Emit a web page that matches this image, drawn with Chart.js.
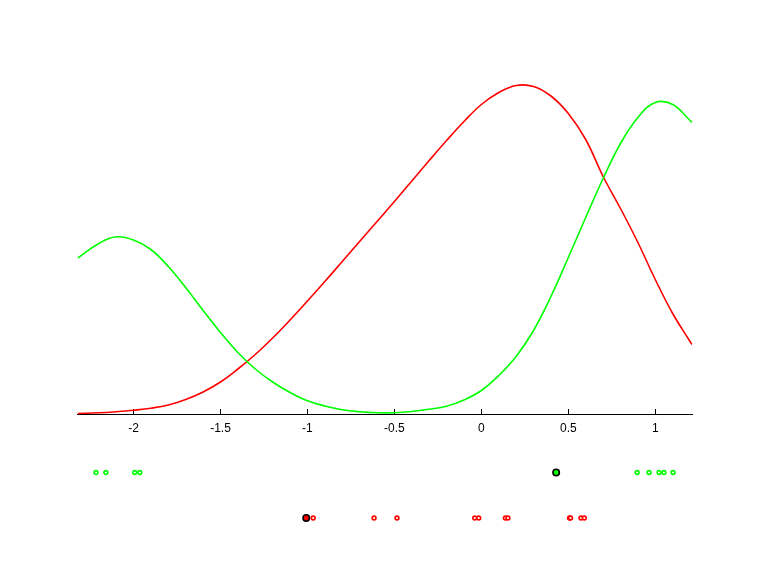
<!DOCTYPE html>
<html>
<head>
<meta charset="utf-8">
<script src="https://cdn.jsdelivr.net/npm/chart.js@4"></script>
<style>
  html, body { margin: 0; padding: 0; background: #fff; }
</style>
</head>
<body>
<canvas id="densityChart" width="768" height="576"></canvas>
<script>
// sample positions along x, and curve heights
const xGrid = [-2.32, -2.2, -2.1, -2.0, -1.9, -1.8, -1.7, -1.6, -1.5, -1.4, -1.3, -1.2, -1.1, -1.0,
    -0.9, -0.8, -0.7, -0.6, -0.5, -0.4, -0.3, -0.2, -0.1, 0, 0.1, 0.2, 0.3, 0.4, 0.5, 0.6, 0.7,
    0.8, 0.9, 1.0, 1.1, 1.2, 1.21];
const greenCurve = [156.5, 171, 177.7, 174.5, 165, 148, 127, 104, 82, 62, 45.5, 32.5, 22, 13.7,
    8.5, 4.8, 2.8, 1.8, 1.8, 3, 5.3, 8.3, 14.5, 24, 39, 58, 84, 118, 157, 197, 236,
    271, 297, 312, 310, 294, 292];
const redCurve = [1, 1.7, 2.8, 4.3, 6.3, 9.5, 15, 22.5, 32.5, 45.5, 60, 76.5, 94.5, 113.5,
    133, 153, 173, 193, 213, 233.5, 254, 274, 293, 310, 322, 329, 328, 318.5, 301, 275, 238,
    206, 172, 135, 101, 73, 70];

// sample points shown as rows under the axis
const greenPoints = [-2.216, -2.159, -1.993, -1.964, 0.896, 0.964, 1.022, 1.050, 1.102];
const redPoints = [-0.967, -0.617, -0.485, -0.038, -0.015, 0.138, 0.153, 0.507, 0.513, 0.573, 0.592];
const greenMarked = [0.430];
const redMarked = [-1.007];
const greenRow = -58;
const redRow = -103.5;

const tickValues = [-2, -1.5, -1, -0.5, 0, 0.5, 1];
const xMin = -2.325;
const xMax = 1.214;

const GREEN = '#00ff00';
const RED = '#ff0000';

function curve(ys) {
    return xGrid.map((x, i) => ({ x: x, y: ys[i] }));
}
function row(xs, y) {
    return xs.map(x => ({ x: x, y: y }));
}

const ctx = document.getElementById('densityChart').getContext('2d');
new Chart(ctx, {
    type: 'line',
    data: {
        datasets: [
            { data: curve(greenCurve), borderColor: GREEN, borderWidth: 1.6, pointRadius: 0, tension: 0.4 },
            { data: curve(redCurve), borderColor: RED, borderWidth: 1.6, pointRadius: 0, tension: 0.4 },
            { type: 'scatter', data: row(greenPoints, greenRow), pointRadius: 1.9, borderWidth: 1.6,
              borderColor: GREEN, backgroundColor: '#fff' },
            { type: 'scatter', data: row(redPoints, redRow), pointRadius: 1.9, borderWidth: 1.6,
              borderColor: RED, backgroundColor: '#fff' },
            { type: 'scatter', data: row(greenMarked, greenRow), pointRadius: 3.2, borderWidth: 1.6,
              borderColor: '#000', backgroundColor: GREEN },
            { type: 'scatter', data: row(redMarked, redRow), pointRadius: 3.2, borderWidth: 1.6,
              borderColor: '#000', backgroundColor: RED }
        ]
    },
    options: {
        responsive: false,
        animation: false,
        layout: { padding: { left: 77, right: 75.5, top: 30, bottom: 30 } },
        plugins: { legend: { display: false }, tooltip: { enabled: false } },
        scales: {
            x: {
                type: 'linear',
                position: { y: 0 },
                min: xMin,
                max: xMax,
                afterBuildTicks: (scale) => { scale.ticks = tickValues.map(v => ({ value: v })); },
                grid: { drawOnChartArea: false, drawTicks: true, tickLength: -6, tickColor: '#000', tickWidth: 1 },
                border: { display: true, color: '#000', width: 1 },
                ticks: {
                    color: '#000',
                    padding: 13,
                    maxRotation: 0,
                    font: { family: 'Liberation Sans', size: 12 },
                    callback: (v) => String(v)
                }
            },
            y: {
                type: 'linear',
                display: false,
                min: -131.5,
                max: 384.5
            }
        }
    }
});
</script>
</body>
</html>
